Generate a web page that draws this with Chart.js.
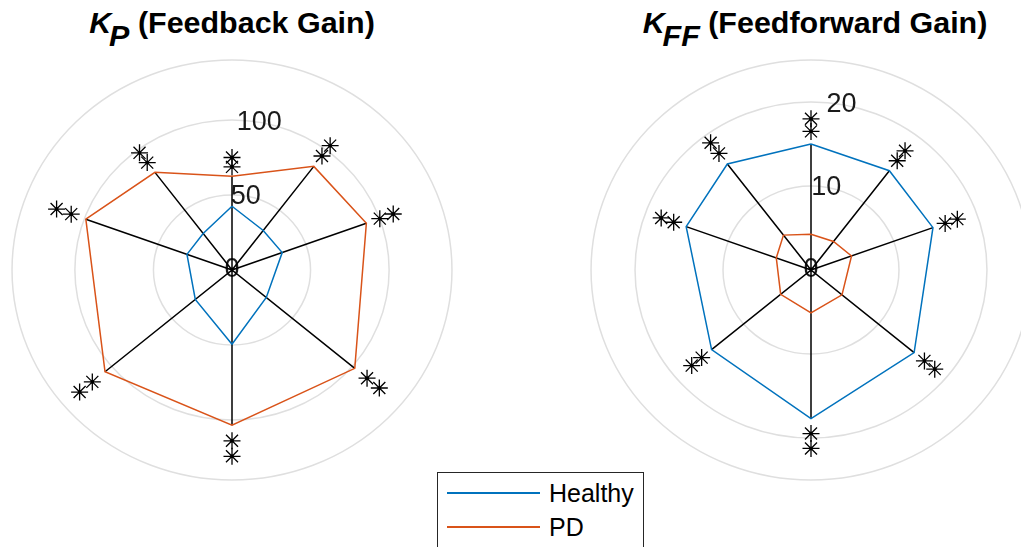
<!DOCTYPE html>
<html>
<head>
<meta charset="utf-8">
<script src="https://cdn.jsdelivr.net/npm/chart.js@4.4.1/dist/chart.umd.min.js"></script>
<style>
  html, body { margin: 0; padding: 0; background: #fff; width: 1021px; height: 547px; overflow: hidden; }
  body { position: relative; font-family: "Liberation Sans", Arial, sans-serif; color: #000; }
  canvas { position: absolute; }
  .title { position: absolute; width: 420px; text-align: center; font-weight: bold; font-size: 29px; line-height: 29px; white-space: nowrap; transform: scaleX(1.05); }
  .title i { font-style: italic; }
  .title sub { font-size: 1em; vertical-align: -13px; line-height: 0; margin-left: -2px; }
  #legend { position: absolute; left: 437px; top: 472px; width: 205px; height: 90px; border: 1px solid #262626; background: #fff; }
  .item { position: absolute; left: 9px; height: 24px; font-size: 25px; line-height: 24px; }
  .item span.ln { position: absolute; left: 0; top: 11px; width: 93px; height: 2px; }
  .item span.tx { position: absolute; left: 102px; top: 0; }
</style>
</head>
<body>
<div class="title" style="left:22px; top:9px;"><i>K</i><sub><i>P</i></sub> (Feedback Gain)</div>
<div class="title" style="left:605px; top:9px;"><i>K</i><sub><i>FF</i></sub> (Feedforward Gain)</div>
<canvas id="kpChart" width="472" height="450" style="left:-4px; top:45px;"></canvas>
<canvas id="kffChart" width="476" height="454" style="left:573px; top:43px;"></canvas>
<div id="legend">
  <div class="item" style="top:8px;"><span class="ln" style="background:#0072BD"></span><span class="tx">Healthy</span></div>
  <div class="item" style="top:42px;"><span class="ln" style="background:#D95319"></span><span class="tx">PD</span></div>
</div>
<script>
// target directions (deg, counter-clockwise from right)
const directions = [90, 53, 20, -40, -90, -140, 160, 127];

const kpHealthy = [42.5, 33, 34, 28.5, 49.5, 30.5, 30.5, 30.5];
const kpPD = [62.5, 86.5, 91, 102, 103.5, 105.5, 99, 81.5];
const kpTicks = [0, 50, 100];
const kpRings = [50, 100, 140];

const kffHealthy = [15.0, 14.8, 14.75, 15.3, 17.7, 14.75, 15.1, 15.8];
const kffPD = [4.25, 4.25, 4.9, 4.6, 5.1, 4.5, 4.2, 5.2];
const kffTicks = [0, 10, 20];
const kffRings = [10, 20, 25];

// significance stars sit just outside the larger value
const starFactors = [1.1, 1.2];

const BLUE = '#0072BD';
const ORANGE = '#D95319';

function toXY(r, deg) {
    const a = deg * Math.PI / 180;
    return { x: r * Math.cos(a), y: r * Math.sin(a) };
}

const polarGrid = {
    id: 'polarGrid',
    beforeDatasetsDraw(chart, args, opts) {
        const { ctx, scales: { x, y } } = chart;
        const cx = x.getPixelForValue(0);
        const cy = y.getPixelForValue(0);
        ctx.save();
        ctx.strokeStyle = '#dfdfdf';
        ctx.lineWidth = 1.5;
        opts.rings.forEach(r => {
            const rx = x.getPixelForValue(r) - cx;
            const ry = cy - y.getPixelForValue(r);
            ctx.beginPath();
            ctx.ellipse(cx, cy, rx, ry, 0, 0, Math.PI * 2);
            ctx.stroke();
        });
        ctx.fillStyle = '#1a1a1a';
        ctx.font = '27px "Liberation Sans", Arial, sans-serif';
        ctx.textAlign = 'center';
        ctx.textBaseline = 'middle';
        opts.ticks.forEach(t => {
            const p = toXY(t, 80);
            ctx.fillText(String(t), x.getPixelForValue(p.x), y.getPixelForValue(p.y));
        });
        ctx.restore();
    }
};

function makeChart(id, healthy, pd, rings, ticks, xLim, yLim) {
    const maxVals = healthy.map((h, i) => Math.max(h, pd[i]));
    const poly = vals => {
        const pts = vals.map((v, i) => toXY(v, directions[i]));
        pts.push(pts[0]);
        return pts;
    };
    const spokes = [];
    maxVals.forEach((m, i) => {
        spokes.push({ x: 0, y: 0 });
        spokes.push(toXY(m, directions[i]));
    });
    spokes.push({ x: 0, y: 0 });
    const stars = [];
    maxVals.forEach((m, i) => {
        starFactors.forEach(f => stars.push(toXY(m * f, directions[i])));
    });

    const ctx = document.getElementById(id).getContext('2d');
    return new Chart(ctx, {
        type: 'scatter',
        data: {
            datasets: [
                {
                    label: 'Healthy',
                    data: poly(healthy),
                    showLine: true,
                    borderColor: BLUE,
                    borderWidth: 1.5,
                    pointRadius: 0,
                    fill: false
                },
                {
                    label: 'PD',
                    data: poly(pd),
                    showLine: true,
                    borderColor: ORANGE,
                    borderWidth: 1.5,
                    pointRadius: 0,
                    fill: false
                },
                {
                    label: 'spokes',
                    data: spokes,
                    showLine: true,
                    borderColor: '#000',
                    borderWidth: 1.5,
                    pointRadius: 0,
                    fill: false
                },
                {
                    label: 'stars',
                    data: stars,
                    showLine: false,
                    pointStyle: 'star',
                    pointRadius: 8.5,
                    borderColor: '#000',
                    borderWidth: 1.3
                },
                {
                    label: 'starDots',
                    data: stars,
                    showLine: false,
                    pointStyle: 'circle',
                    pointRadius: 1.8,
                    backgroundColor: '#000',
                    borderColor: '#000',
                    borderWidth: 0
                }
            ]
        },
        options: {
            responsive: false,
            animation: false,
            layout: { padding: 0, autoPadding: false },
            scales: {
                x: { type: 'linear', min: -xLim, max: xLim, display: false },
                y: { type: 'linear', min: -yLim, max: yLim, display: false }
            },
            plugins: {
                legend: { display: false },
                tooltip: { enabled: false },
                polarGrid: { rings: rings, ticks: ticks }
            }
        },
        plugins: [polarGrid]
    });
}

makeChart('kpChart', kpHealthy, kpPD, kpRings, kpTicks, 150.2, 150);
makeChart('kffChart', kffHealthy, kffPD, kffRings, kffTicks, 27.05, 27.02);
</script>
</body>
</html>
